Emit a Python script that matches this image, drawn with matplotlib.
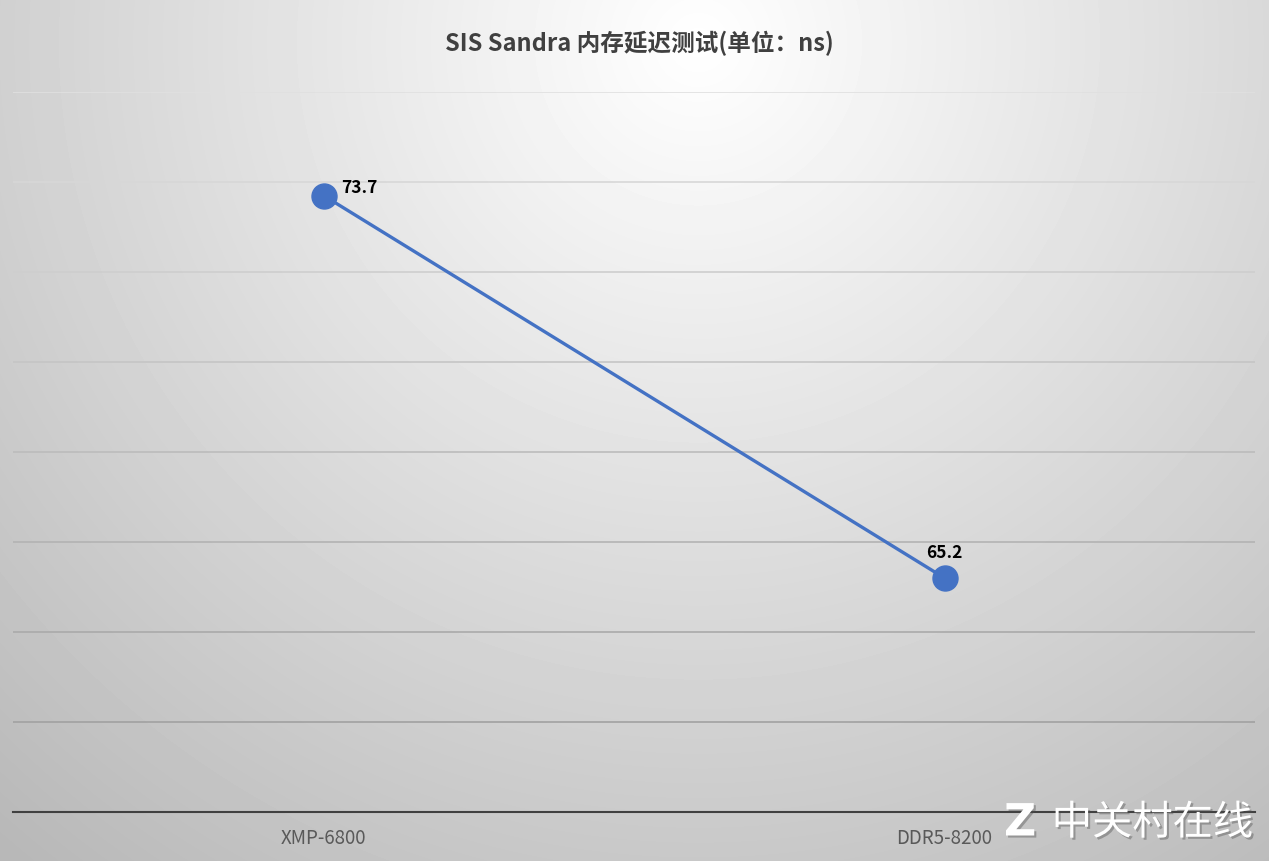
import numpy as np
import matplotlib
matplotlib.use("Agg")
import matplotlib.pyplot as plt
import matplotlib.patheffects as pe

plt.rcParams['font.family'] = ['Noto Sans CJK SC', 'DejaVu Sans']

categories = ["XMP-6800", "DDR5-8200"]
latency = [73.7, 65.2]
label_text = ["73.7", "65.2"]
y_ticks = [60, 62, 64, 66, 68, 70, 72, 74, 76]

W, H = 1269, 862
fig = plt.figure(figsize=(W / 100, H / 100), dpi=100)

# radial gradient background
bg = fig.add_axes([0, 0, 1, 1])
yy, xx = np.mgrid[0:H, 0:W]
d = np.sqrt(((xx - W * 0.55) / (W * 0.75)) ** 2 + ((yy - H * 0.05) / (H * 1.1)) ** 2)
shade = np.clip(1.0 - 0.25 * d, 0.72, 1.0)
bg.imshow(shade, cmap="gray", vmin=0, vmax=1, aspect="auto", extent=[0, W, H, 0])
bg.set_axis_off()

ax = fig.add_axes([13 / W, 1 - 813 / H, (1255 - 13) / W, (813 - 93) / H])
ax.patch.set_alpha(0)
ax.set_xlim(-0.5, 1.5)
ax.set_ylim(60, 76)

# gridlines get darker toward the bottom
for i, t in enumerate(y_ticks[1:]):
    g = 0.88 - 0.25 * (len(y_ticks) - 2 - i) / (len(y_ticks) - 2)
    ax.axhline(t, color=(g, g, g), linewidth=1.2, zorder=1)

x = np.arange(len(categories))
ax.plot(x, latency, color="#4472C4", linewidth=2.4, marker="o", markersize=18,
        markerfacecolor="#4472C4", markeredgecolor="#4472C4", zorder=3)

ax.annotate(label_text[0], (x[0], latency[0]), xytext=(13, 6), textcoords="offset points",
            fontsize=12.5, fontweight="bold", color="black", ha="left", va="center")
ax.annotate(label_text[1], (x[1], latency[1]), xytext=(0, 19), textcoords="offset points",
            fontsize=12.5, fontweight="bold", color="black", ha="center", va="center")

for s in ["top", "right", "left"]:
    ax.spines[s].set_visible(False)
ax.spines["bottom"].set_color("#404040")
ax.spines["bottom"].set_linewidth(1.5)
ax.set_yticks([])
ax.set_xticks(x)
ax.set_xticklabels(categories, fontsize=13.5, color="#595959")
ax.tick_params(axis="x", length=0, pad=11)

fig.text(0.5 + 5 / W, 1 - 43 / H, "SIS Sandra 内存延迟测试(单位：ns)", ha="center", va="center",
         fontsize=17, fontweight="bold", color="#404040")

# watermark
fig.text(1 - 16 / W, 1 - 824 / H, "中关村在线", ha="right", va="center", fontsize=29,
         color="white", path_effects=[pe.withSimplePatchShadow(offset=(1.5, -1.5), alpha=0.4)])
fig.text(1004 / W, 1 - 824 / H, "Z", ha="left", va="center", fontsize=32,
         fontweight="bold", color="white", family="DejaVu Sans",
         path_effects=[pe.withSimplePatchShadow(offset=(1.5, -1.5), alpha=0.4)])

fig.savefig("out.png", dpi=100)
